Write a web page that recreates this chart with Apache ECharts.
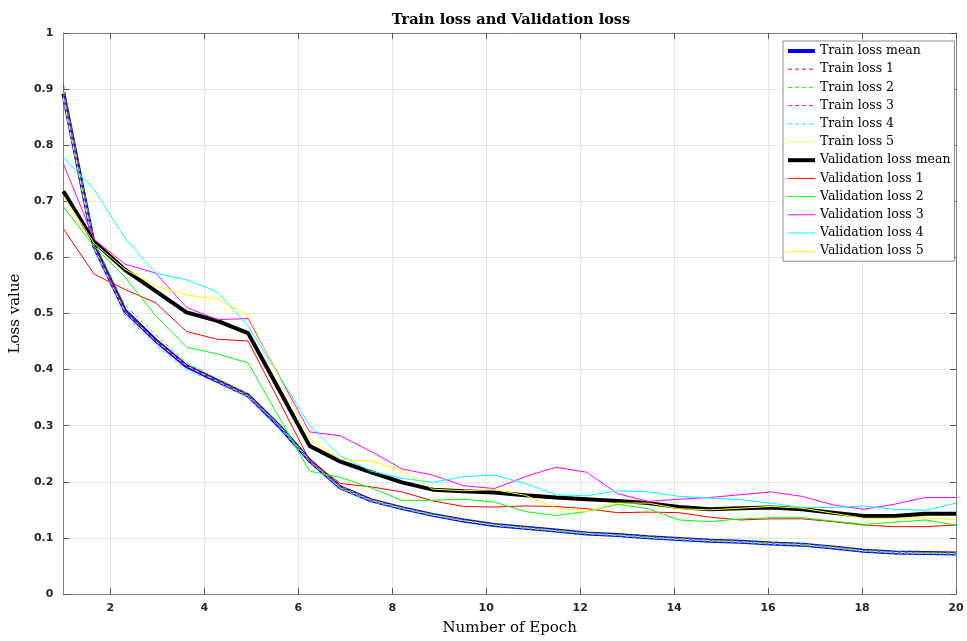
<!DOCTYPE html>
<html>
<head>
<meta charset="utf-8">
<script src="https://cdn.jsdelivr.net/npm/echarts@6/dist/echarts.min.js"></script>
<style>
html,body{margin:0;padding:0;background:#fff;}
#chart{width:967px;height:641px;}
</style>
</head>
<body>
<div id="chart"></div>
<script>
const epochs = [1, 1.655, 2.31, 2.966, 3.621, 4.276, 4.931, 5.586, 6.241, 6.897, 7.552, 8.207, 8.862, 9.517, 10.172, 10.828, 11.483, 12.138, 12.793, 13.448, 14.103, 14.759, 15.414, 16.069, 16.724, 17.379, 18.034, 18.69, 19.345, 20];

const trainMean = [0.892,0.620,0.505,0.452,0.406,0.380,0.354,0.300,0.238,0.190,0.167,0.153,0.141,0.131,0.123,0.118,0.113,0.108,0.105,0.101,0.098,0.095,0.093,0.090,0.088,0.083,0.077,0.074,0.073,0.072];
const train1 = [0.908,0.625,0.507,0.452,0.407,0.381,0.355,0.300,0.239,0.191,0.168,0.153,0.141,0.131,0.124,0.118,0.113,0.108,0.105,0.101,0.098,0.095,0.093,0.090,0.088,0.083,0.077,0.074,0.073,0.072];
const train2 = [0.895,0.628,0.515,0.462,0.412,0.384,0.357,0.302,0.240,0.192,0.168,0.154,0.142,0.132,0.124,0.119,0.114,0.109,0.106,0.102,0.099,0.096,0.094,0.091,0.089,0.084,0.078,0.075,0.074,0.073];
const train3 = [0.889,0.618,0.504,0.451,0.405,0.380,0.354,0.299,0.237,0.190,0.167,0.153,0.141,0.131,0.123,0.118,0.113,0.108,0.105,0.101,0.098,0.095,0.093,0.090,0.088,0.083,0.077,0.074,0.073,0.072];
const train4 = [0.885,0.612,0.497,0.444,0.399,0.376,0.351,0.298,0.236,0.188,0.165,0.152,0.140,0.130,0.122,0.117,0.112,0.107,0.104,0.100,0.097,0.094,0.092,0.089,0.087,0.082,0.076,0.073,0.072,0.071];
const train5 = [0.883,0.617,0.503,0.451,0.407,0.379,0.353,0.301,0.238,0.189,0.167,0.153,0.141,0.131,0.123,0.118,0.113,0.108,0.105,0.101,0.098,0.095,0.093,0.090,0.088,0.083,0.077,0.074,0.073,0.072];

const valMean = [0.718,0.628,0.578,0.540,0.502,0.487,0.465,0.365,0.264,0.236,0.217,0.199,0.186,0.183,0.181,0.176,0.172,0.169,0.166,0.162,0.155,0.151,0.153,0.154,0.151,0.145,0.139,0.139,0.143,0.143];
const val1 = [0.651,0.570,0.543,0.519,0.468,0.454,0.451,0.345,0.238,0.197,0.191,0.182,0.166,0.156,0.155,0.157,0.156,0.152,0.145,0.146,0.145,0.137,0.132,0.134,0.134,0.129,0.123,0.120,0.120,0.123];
const val2 = [0.690,0.620,0.565,0.496,0.440,0.428,0.412,0.316,0.219,0.208,0.189,0.167,0.167,0.169,0.164,0.147,0.140,0.147,0.160,0.152,0.132,0.129,0.134,0.136,0.136,0.130,0.124,0.128,0.132,0.123];
const val3 = [0.767,0.632,0.588,0.572,0.511,0.489,0.491,0.390,0.289,0.282,0.254,0.223,0.212,0.193,0.188,0.209,0.226,0.217,0.179,0.165,0.169,0.172,0.177,0.182,0.174,0.159,0.151,0.160,0.172,0.172];
const val4 = [0.779,0.721,0.635,0.572,0.560,0.539,0.478,0.390,0.301,0.246,0.219,0.206,0.199,0.209,0.212,0.197,0.177,0.175,0.184,0.182,0.174,0.171,0.168,0.162,0.154,0.154,0.157,0.151,0.149,0.162];
const val5 = [0.710,0.625,0.579,0.549,0.533,0.526,0.497,0.387,0.277,0.240,0.237,0.221,0.187,0.184,0.186,0.176,0.154,0.147,0.162,0.162,0.152,0.150,0.153,0.156,0.153,0.144,0.135,0.135,0.136,0.132];

const xTicks = [2,4,6,8,10,12,14,16,18,20];
const yTicks = [0,0.1,0.2,0.3,0.4,0.5,0.6,0.7,0.8,0.9,1];

function pts(arr){ return arr.map((v,i)=>[epochs[i], v]); }

const chart = echarts.init(document.getElementById('chart'), null, {renderer:'canvas'});

function mk(name, arr, color, width, type){
  return {
    name: name, type: 'line', data: pts(arr), symbol: 'none', showSymbol: false,
    animation: false, silent: true,
    lineStyle: {color: color, width: width, type: type},
    itemStyle: {color: color},
    emphasis: {disabled: true}
  };
}

const series = [
  mk('Train loss mean', trainMean, '#0000ff', 4, 'solid'),
  mk('Train loss 1', train1, '#ff0000', 1, [4,3]),
  mk('Train loss 2', train2, '#00ff00', 1, [4,3]),
  mk('Train loss 3', train3, '#ff00ff', 1, [4,3]),
  mk('Train loss 4', train4, '#00ffff', 1, [4,3]),
  mk('Train loss 5', train5, '#ffff00', 1, [4,3]),
  mk('Validation loss mean', valMean, '#000000', 4, 'solid'),
  mk('Validation loss 1', val1, '#ff0000', 1, 'solid'),
  mk('Validation loss 2', val2, '#00ff00', 1, 'solid'),
  mk('Validation loss 3', val3, '#ff00ff', 1, 'solid'),
  mk('Validation loss 4', val4, '#00ffff', 1, 'solid'),
  mk('Validation loss 5', val5, '#ffff00', 1, 'solid')
];

const axisColor = '#808080';
const labelFont = {fontFamily: 'DejaVu Sans', fontSize: 11, fontWeight: 'bold', color: '#262626'};

const option = {
  animation: false,
  backgroundColor: '#ffffff',
  title: {
    text: 'Train loss and Validation loss',
    left: 506, top: 8, textAlign: 'center',
    textStyle: {fontFamily: 'DejaVu Serif', fontSize: 14.5, fontWeight: 'bold', color: '#000'}
  },
  grid: {left: 57, right: 11, top: 33, bottom: 45, containLabel: false},
  legend: {
    orient: 'vertical', left: 783, top: 41,
    itemWidth: 27, itemHeight: 14, itemGap: 2.2,
    padding: [2, 4, 2, 3],
    backgroundColor: '#ffffff', borderColor: '#8c8c8c', borderWidth: 1,
    itemStyle: {opacity: 0, borderWidth: 0},
    textStyle: {fontFamily: 'DejaVu Serif', fontSize: 12.5, lineHeight: 16, color: '#000'},
    selectedMode: false,
    data: series.map(s => ({name: s.name, lineStyle: {width: s.lineStyle.width}}))
  },
  xAxis: [
    {
      type: 'value', min: 1, max: 20, position: 'bottom',
      name: 'Number of Epoch', nameLocation: 'middle', nameGap: 27,
      nameTextStyle: {fontFamily: 'DejaVu Serif', fontSize: 15, color: '#000'},
      axisLine: {show: true, onZero: false, lineStyle: {color: axisColor, width: 1}},
      axisTick: {show: true, inside: true, length: 6, customValues: xTicks, lineStyle: {color: '#555'}},
      axisLabel: Object.assign({margin: 9, customValues: xTicks}, labelFont),
      splitLine: {show: true, customValues: xTicks, lineStyle: {color: '#e6e6e6', width: 1}}
    },
    {
      type: 'value', min: 1, max: 20, position: 'top',
      axisLine: {show: true, onZero: false, lineStyle: {color: axisColor, width: 1}},
      axisTick: {show: true, inside: true, length: 6, customValues: xTicks, lineStyle: {color: '#555'}},
      axisLabel: {show: false},
      splitLine: {show: false}
    }
  ],
  yAxis: [
    {
      type: 'value', min: 0, max: 1, interval: 0.1, position: 'left',
      name: 'Loss value', nameLocation: 'middle', nameGap: 31,
      nameTextStyle: {fontFamily: 'DejaVu Serif', fontSize: 15, color: '#000'},
      axisLine: {show: true, onZero: false, lineStyle: {color: axisColor, width: 1}},
      axisTick: {show: true, inside: true, length: 6, lineStyle: {color: '#555'}},
      axisLabel: Object.assign({margin: 10, formatter: v => String(Math.round(v*10)/10)}, labelFont),
      splitLine: {show: true, lineStyle: {color: '#e6e6e6', width: 1}}
    },
    {
      type: 'value', min: 0, max: 1, interval: 0.1, position: 'right',
      axisLine: {show: true, onZero: false, lineStyle: {color: axisColor, width: 1}},
      axisTick: {show: true, inside: true, length: 6, lineStyle: {color: '#555'}},
      axisLabel: {show: false},
      splitLine: {show: false}
    }
  ],
  series: series
};

chart.setOption(option);
</script>
</body>
</html>
